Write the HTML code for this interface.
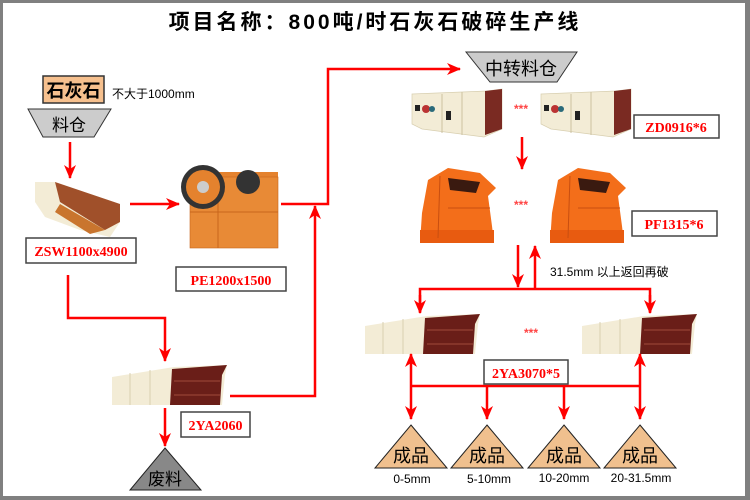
<!DOCTYPE html>
<html><head><meta charset="utf-8"><style>
html,body{margin:0;padding:0;background:#fff}
svg{display:block}
text{font-family:"Liberation Sans","Noto Sans CJK SC",sans-serif}
.lb{font-family:"Liberation Serif","Noto Serif CJK SC",serif;font-weight:bold;fill:#f00;font-size:14px}
</style></head><body>
<svg width="750" height="500" viewBox="0 0 750 500" xmlns="http://www.w3.org/2000/svg">
<defs>
<marker id="a" markerWidth="14" markerHeight="12" refX="13" refY="6" orient="auto" markerUnits="userSpaceOnUse" viewBox="0 0 14 12"><path d="M0,0 L14,6 L0,12 L4,6 z" fill="#f00"/></marker>
<g id="zd">
<polygon points="0,5 75,2 90,0 90,40 72,48 10,40 0,35" fill="#f3ecd6" stroke="#d8cfb0" stroke-width="0.7"/>
<polygon points="73,2 90,0 90,40 73,46" fill="#7a2a22"/>
<rect x="3" y="16" width="5" height="6" fill="#222"/><circle cx="14" cy="20" r="4" fill="#b33"/><circle cx="20" cy="20" r="3" fill="#2a6a7a"/>
<rect x="34" y="22" width="5" height="9" fill="#222"/>
<line x1="30" y1="5" x2="30" y2="44" stroke="#ccc2a0"/><line x1="50" y1="3" x2="50" y2="46" stroke="#ccc2a0"/>
</g>
<g id="pf">
<polygon points="10,12 30,0 62,5 78,20 70,28 74,58 76,75 2,75 4,45" fill="#f36e1a"/>
<polygon points="30,10 62,14 58,25 32,22" fill="#3a1a10"/>
<polygon points="2,62 76,62 76,75 2,75" fill="#e85b10"/>
<line x1="22" y1="8" x2="20" y2="70" stroke="#c84e10"/><line x1="30" y1="40" x2="72" y2="40" stroke="#c84e10"/>
</g>
<g id="sc">
<polygon points="0,10 62,0 115,-2 113,8 110,38 0,38" fill="#f3ecd6"/>
<polygon points="60,2 115,-2 110,8 108,38 58,38" fill="#6a1e18"/>
<line x1="62" y1="14" x2="108" y2="14" stroke="#a04a3a"/><line x1="62" y1="28" x2="108" y2="28" stroke="#a04a3a"/>
<line x1="18" y1="6" x2="18" y2="38" stroke="#d8cfb0"/><line x1="38" y1="3" x2="38" y2="38" stroke="#d8cfb0"/>
</g>
</defs>
<rect x="0" y="0" width="750" height="500" fill="#808080"/>
<rect x="3" y="3" width="742" height="493" fill="#fff"/>
<text x="375" y="29" text-anchor="middle" font-size="21" font-family="Liberation Serif,'Noto Serif CJK SC',serif" font-weight="bold" letter-spacing="3">项目名称：800吨/时石灰石破碎生产线</text>

<rect x="43" y="76" width="61" height="27" fill="#f6c08e" stroke="#333" stroke-width="1.5"/>
<text x="73.5" y="97" text-anchor="middle" font-size="18" font-weight="bold">石灰石</text>
<text x="112" y="98" font-size="12">不大于1000mm</text>
<polygon points="28,109 111,109 94,137 43,137" fill="#ccc" stroke="#333"/>
<text x="69" y="131" text-anchor="middle" font-size="17">料仓</text>
<line x1="70" y1="142" x2="70" y2="178" stroke="#f00" stroke-width="2.5" marker-end="url(#a)"/>

<g transform="translate(35,182)">
<polygon points="0,0 20,0 85,22 85,40 75,55 45,48 10,35 0,20" fill="#f3ecd6"/>
<polygon points="20,0 85,22 85,40 70,48 25,20" fill="#a0502a"/>
<polygon points="25,22 70,48 55,52 20,30" fill="#c9752e"/>
</g>
<rect x="26" y="238" width="110" height="25" fill="#fff" stroke="#444" stroke-width="1.5"/>
<text x="81" y="256" text-anchor="middle" class="lb">ZSW1100x4900</text>
<line x1="130" y1="204" x2="179" y2="204" stroke="#f00" stroke-width="2.5" marker-end="url(#a)"/>

<g transform="translate(178,152)">
<rect x="12" y="20" width="88" height="76" fill="#e4822e"/>
<rect x="12" y="25" width="88" height="71" fill="#e88a36" stroke="#c8661c" stroke-width="0.6"/>
<line x1="40" y1="25" x2="40" y2="96" stroke="#c8661c"/><line x1="12" y1="60" x2="100" y2="60" stroke="#c8661c"/>
<circle cx="25" cy="35" r="22" fill="#333"/><circle cx="25" cy="35" r="17" fill="#e4822e"/><circle cx="25" cy="35" r="6" fill="#ccc"/>
<circle cx="70" cy="30" r="12" fill="#333"/>
</g>
<rect x="176" y="267" width="110" height="24" fill="#fff" stroke="#444" stroke-width="1.5"/>
<text x="231" y="285" text-anchor="middle" class="lb">PE1200x1500</text>

<polyline points="281,204 328,204 328,69 460,69" fill="none" stroke="#f00" stroke-width="2.5" marker-end="url(#a)"/>
<polyline points="230,396 315,396 315,206" fill="none" stroke="#f00" stroke-width="2.5" marker-end="url(#a)"/>

<polygon points="466,52 577,52 557,82 490,82" fill="#ccc" stroke="#333"/>
<text x="521" y="75" text-anchor="middle" font-size="18">中转料仓</text>

<use href="#zd" x="412" y="89"/><use href="#zd" x="541" y="89"/>
<text x="521" y="113" text-anchor="middle" font-size="12" fill="#f44" font-weight="bold">***</text>
<rect x="634" y="115" width="85" height="23" fill="#fff" stroke="#444" stroke-width="1.5"/>
<text x="676" y="132" text-anchor="middle" class="lb">ZD0916*6</text>
<line x1="522" y1="137" x2="522" y2="169" stroke="#f00" stroke-width="2.5" marker-end="url(#a)"/>

<use href="#pf" x="418" y="168"/><use href="#pf" x="548" y="168"/>
<text x="521" y="209" text-anchor="middle" font-size="12" fill="#f44" font-weight="bold">***</text>
<rect x="632" y="211" width="85" height="25" fill="#fff" stroke="#444" stroke-width="1.5"/>
<text x="674" y="229" text-anchor="middle" class="lb">PF1315*6</text>

<line x1="518" y1="245" x2="518" y2="287" stroke="#f00" stroke-width="2.5" marker-end="url(#a)"/>
<line x1="535" y1="288" x2="535" y2="246" stroke="#f00" stroke-width="2.5" marker-end="url(#a)"/>
<text x="550" y="276" font-size="12">31.5mm 以上返回再破</text>
<polyline points="420,312 420,289 650,289 650,312" fill="none" stroke="#f00" stroke-width="2.5"/>
<line x1="420" y1="295" x2="420" y2="313" stroke="#f00" stroke-width="2.5" marker-end="url(#a)"/>
<line x1="650" y1="295" x2="650" y2="313" stroke="#f00" stroke-width="2.5" marker-end="url(#a)"/>

<use href="#sc" x="365" y="316"/><use href="#sc" x="582" y="316"/>
<text x="531" y="337" text-anchor="middle" font-size="12" fill="#f44" font-weight="bold">***</text>

<line x1="411" y1="386" x2="411" y2="354" stroke="#f00" stroke-width="2.5" marker-end="url(#a)"/>
<line x1="640" y1="386" x2="640" y2="354" stroke="#f00" stroke-width="2.5" marker-end="url(#a)"/>
<line x1="411" y1="386" x2="640" y2="386" stroke="#f00" stroke-width="2.5"/>
<line x1="411" y1="386" x2="411" y2="419" stroke="#f00" stroke-width="2.5" marker-end="url(#a)"/>
<line x1="487" y1="386" x2="487" y2="419" stroke="#f00" stroke-width="2.5" marker-end="url(#a)"/>
<line x1="564" y1="386" x2="564" y2="419" stroke="#f00" stroke-width="2.5" marker-end="url(#a)"/>
<line x1="640" y1="386" x2="640" y2="419" stroke="#f00" stroke-width="2.5" marker-end="url(#a)"/>
<rect x="484" y="360" width="84" height="24" fill="#fff" stroke="#444" stroke-width="1.5"/>
<text x="526" y="378" text-anchor="middle" class="lb">2YA3070*5</text>

<g fill="#f0c08e" stroke="#222">
<polygon points="411,425 447,468 375,468"/>
<polygon points="487,425 523,468 451,468"/>
<polygon points="564,425 600,468 528,468"/>
<polygon points="640,425 676,468 604,468"/>
</g>
<g font-size="18" text-anchor="middle">
<text x="411" y="462">成品</text><text x="487" y="462">成品</text><text x="564" y="462">成品</text><text x="640" y="462">成品</text>
</g>
<g font-size="12" text-anchor="middle">
<text x="412" y="483">0-5mm</text><text x="489" y="483">5-10mm</text><text x="564" y="482">10-20mm</text><text x="641" y="482">20-31.5mm</text>
</g>

<polyline points="68,275 68,318 165,318 165,361" fill="none" stroke="#f00" stroke-width="2.5" marker-end="url(#a)"/>
<use href="#sc" x="112" y="367"/>
<rect x="181" y="412" width="69" height="25" fill="#fff" stroke="#444" stroke-width="1.5"/>
<text x="215.5" y="430" text-anchor="middle" class="lb">2YA2060</text>
<line x1="165" y1="408" x2="165" y2="446" stroke="#f00" stroke-width="2.5" marker-end="url(#a)"/>
<polygon points="165,448 201,490 130,490" fill="#888" stroke="#222"/>
<text x="165" y="485" text-anchor="middle" font-size="17">废料</text>
</svg>
</body></html>
